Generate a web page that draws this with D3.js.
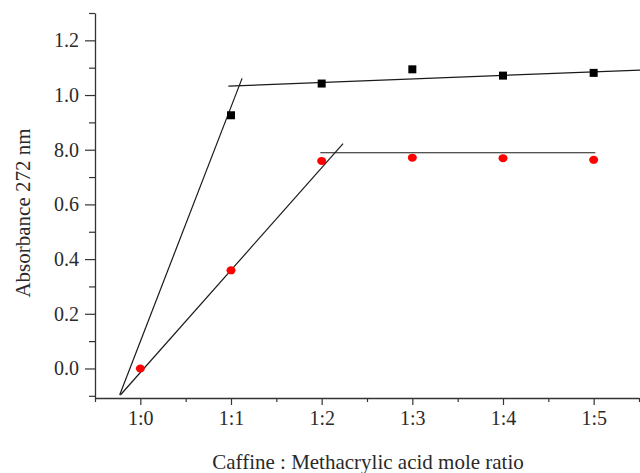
<!DOCTYPE html>
<html><head><meta charset="utf-8">
<script src="https://cdn.jsdelivr.net/npm/d3@7"></script>
<style>body{margin:0;background:#fff}svg{display:block}</style>
</head><body>
<script>
// ---- data ----
const categories = ["1:0","1:1","1:2","1:3","1:4","1:5"];
const blackX = [1,2,3,4,5];
const blackY = [0.926,1.042,1.094,1.071,1.081];
const redX = [0,1,2,3,4,5];
const redY = [0.0,0.359,0.759,0.771,0.769,0.763];
const yTickValues = [0.0,0.2,0.4,0.6,0.8,1.0,1.2];
const yTickLabels = ["0.0","0.2","0.4","0.6","8.0","1.0","1.2"];
// fitted guide lines (data coordinates: [x, y] endpoints)
const blackRise = [[-0.228,-0.097],[1.122,1.061]];
const blackPlateau = [[0.971,1.0325],[5.52,1.0914]];
const redRise = [[-0.22,-0.097],[2.236,0.822]];
const redPlateau = [[1.985,0.789],[5.019,0.789]];

const W=640,H=473;
const svg=d3.select("body").append("svg").attr("width",W).attr("height",H);
const x=d3.scaleLinear().domain([-0.5,5.5]).range([95,639]);
const y=d3.scaleLinear().domain([-0.108,1.3]).range([398,13]);
const font="'Liberation Serif','Times New Roman',serif";
const axCol="#333";
const txtCol="#2a2a2a";

// y axis
const yAxis=d3.axisLeft(y).tickValues(yTickValues).tickSize(10).tickSizeOuter(0)
  .tickFormat((d,i)=>yTickLabels[i]).tickPadding(6);
const gy=svg.append("g").attr("transform",`translate(${x(-0.5)},0)`).call(yAxis);
gy.select(".domain").attr("stroke",axCol).attr("stroke-width",1.3);
gy.selectAll(".tick line").attr("stroke",axCol).attr("stroke-width",1.2);
gy.selectAll(".tick text").attr("font-family",font).attr("font-size",20).attr("fill",txtCol);
const gyMinor=d3.axisLeft(y).tickValues(d3.range(-0.1,1.31,0.2)).tickSize(6).tickSizeOuter(0).tickFormat("");
const gym=svg.append("g").attr("transform",`translate(${x(-0.5)},0)`).call(gyMinor);
gym.select(".domain").remove();
gym.selectAll(".tick line").attr("stroke",axCol).attr("stroke-width",1.2);

// x axis
const xAxis=d3.axisBottom(x).tickValues(d3.range(0,6)).tickSize(7).tickSizeOuter(0)
  .tickFormat(d=>categories[d]).tickPadding(6);
const gx=svg.append("g").attr("transform",`translate(0,${y(-0.108)})`).call(xAxis);
gx.select(".domain").attr("stroke",axCol).attr("stroke-width",1.3);
gx.selectAll(".tick line").attr("stroke",axCol).attr("stroke-width",1.2);
gx.selectAll(".tick text").attr("font-family",font).attr("font-size",20).attr("fill",txtCol);
const xMinor=d3.axisBottom(x).tickValues([-0.5,0.5,1.5,2.5,3.5,4.5,5.5]).tickSize(4).tickSizeOuter(0).tickFormat("");
const gxm=svg.append("g").attr("transform",`translate(0,${y(-0.108)})`).call(xMinor);
gxm.select(".domain").remove();
gxm.selectAll(".tick line").attr("stroke",axCol).attr("stroke-width",1.2);

// titles
svg.append("text").attr("x",368).attr("y",469).attr("text-anchor","middle")
  .attr("font-family",font).attr("font-size",21).attr("fill",txtCol)
  .text("Caffine : Methacrylic acid mole ratio");
svg.append("text").attr("transform","translate(30,213) rotate(-90)").attr("text-anchor","middle")
  .attr("font-family",font).attr("font-size",21).attr("fill",txtCol)
  .text("Absorbance 272 nm");

// fit lines
const line=d3.line().x(d=>x(d[0])).y(d=>y(d[1]));
[blackRise,blackPlateau,redRise,redPlateau].forEach(seg=>{
  svg.append("path").attr("d",line(seg)).attr("fill","none").attr("stroke","#1a1a1a").attr("stroke-width",1.2);
});

// markers
svg.append("g").selectAll("rect").data(blackX).join("rect")
  .attr("x",(d)=>x(d)-4).attr("y",(d,i)=>y(blackY[i])-4).attr("width",8).attr("height",8).attr("fill","#000");
svg.append("g").selectAll("ellipse").data(redX).join("ellipse")
  .attr("cx",d=>x(d)).attr("cy",(d,i)=>y(redY[i])).attr("rx",4.5).attr("ry",4).attr("fill","#f00");
</script>
</body></html>
